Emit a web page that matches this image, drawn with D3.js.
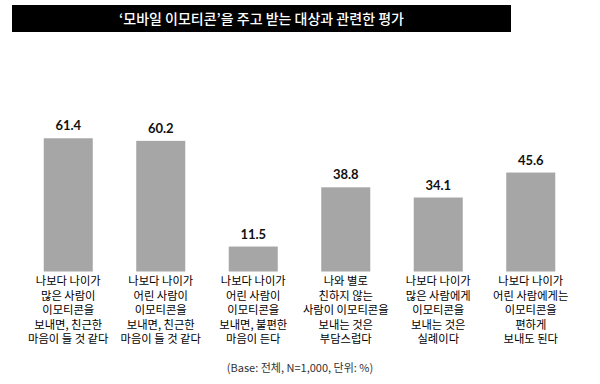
<!DOCTYPE html>
<html><head><meta charset="utf-8">
<script src="https://cdn.jsdelivr.net/npm/d3@7"></script>
<style>body{margin:0;background:#fff}svg{display:block}</style>
</head><body>
<script>
const title = "‘모바일 이모티콘’을 주고 받는 대상과 관련한 평가";
const categories = [
  ["나보다 나이가","많은 사람이","이모티콘을","보내면, 친근한","마음이 들 것 같다"],
  ["나보다 나이가","어린 사람이","이모티콘을","보내면, 친근한","마음이 들 것 같다"],
  ["나보다 나이가","어린 사람이","이모티콘을","보내면, 불편한","마음이 든다"],
  ["나와 별로","친하지 않는","사람이 이모티콘을","보내는 것은","부담스럽다"],
  ["나보다 나이가","많은 사람에게","이모티콘을","보내는 것은","실례이다"],
  ["나보다 나이가","어린 사람에게는","이모티콘을","편하게","보내도 된다"]
];
const values = [61.4, 60.2, 11.5, 38.8, 34.1, 45.6];
const footnote = "(Base: 전체, N=1,000, 단위: %)";

const W = 600, H = 384;
const svg = d3.select("body").append("svg").attr("width", W).attr("height", H);
const kr = "'Noto Sans CJK KR', 'Noto Sans', sans-serif";

// title bar
svg.append("rect").attr("x", 12).attr("y", 5).attr("width", 499).attr("height", 27).attr("fill", "#000");
svg.append("text").attr("x", 261.5).attr("y", 23.5).attr("text-anchor", "middle")
  .attr("font-family", kr).attr("font-size", 14).attr("font-weight", 500).attr("fill", "#fff").text(title);

const idx = d3.range(values.length);
const x = d3.scaleBand().domain(idx).range([22, 577]).paddingInner(0.47).paddingOuter(0.235);
const y = d3.scaleLinear().domain([0, 100]).range([271.5, 54.5]);

svg.selectAll("rect.bar").data(idx).enter().append("rect").attr("class", "bar")
  .attr("x", i => x(i)).attr("width", x.bandwidth())
  .attr("y", i => y(values[i])).attr("height", i => y(0) - y(values[i]))
  .attr("fill", "#a6a6a6");

svg.selectAll("text.val").data(idx).enter().append("text").attr("class", "val")
  .attr("x", i => x(i) + x.bandwidth() / 2).attr("y", i => y(values[i]) - 8)
  .attr("text-anchor", "middle").attr("font-family", "Lato, 'Open Sans', sans-serif")
  .attr("font-weight", 700).attr("font-size", 13).attr("fill", "#111")
  .text(i => values[i].toFixed(1));

const cat = svg.selectAll("text.cat").data(idx).enter().append("text").attr("class", "cat")
  .attr("text-anchor", "middle").attr("font-family", kr).attr("font-size", 11.3).attr("fill", "#000");
cat.each(function(i) {
  const t = d3.select(this);
  categories[i].forEach((line, j) => {
    t.append("tspan").attr("x", x(i) + x.bandwidth() / 2).attr("y", 285 + j * 14.5).text(line);
  });
});

svg.append("text").attr("x", 300).attr("y", 371.5).attr("text-anchor", "middle")
  .attr("font-family", kr).attr("font-size", 11).attr("fill", "#333").text(footnote);
</script>
</body></html>
